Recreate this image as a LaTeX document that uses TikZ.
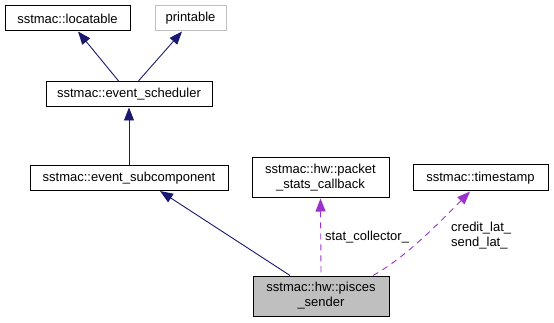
\documentclass[tikz,border=0pt]{standalone}
\usepackage{fontspec}
\setmainfont{Liberation Sans}
\usetikzlibrary{arrows.meta}

\definecolor{inheritblue}{HTML}{191970}
\definecolor{usepurple}{HTML}{9A32CD}
\definecolor{boxgray}{HTML}{BFBFBF}

\begin{document}
\begin{tikzpicture}[x=1pt, y=-1pt,
    every node/.style={font=\fontsize{13}{15}\selectfont},
    cls/.style={draw=black, line width=1pt, rectangle, inner sep=0pt,
        align=center, fill=white, minimum height=25pt},
    inherit/.style={{Triangle[length=13pt,width=10pt]}-, draw=inheritblue, line width=0.9pt},
    usage/.style={{Triangle[length=13pt,width=10pt]}-, draw=usepurple, line width=0.9pt,
        dash pattern=on 6pt off 5pt}]

        \useasboundingbox (0,0) rectangle (554,323);

        % Base classes
        \node[cls, minimum width=125pt] (locatable) at (67.5,18.5) {sstmac::locatable};
        \node[cls, draw=boxgray, minimum width=71pt] (printable) at (190.5,18.5) {printable};
        \node[cls, minimum width=166pt] (scheduler) at (129,94.5) {sstmac::event\_scheduler};
        \node[cls, minimum width=198pt] (subcomp) at (129,178) {sstmac::event\_subcomponent};

        % Members
        \node[cls, minimum width=137pt, minimum height=40pt] (statscb) at (320.5,178)
            {sstmac::hw::packet\\\_stats\_callback};
        \node[cls, minimum width=135pt, minimum height=26pt] (timestamp) at (480.5,178)
            {sstmac::timestamp};

        % The class itself
        \node[cls, fill=boxgray, minimum width=136pt, minimum height=40pt] (sender) at (321,296)
            {sstmac::hw::pisces\\\_sender};

        % Inheritance
        \draw[inherit] ([xshift=10.5pt]locatable.south) -- ([xshift=-10pt]scheduler.north);
        \draw[inherit] ([xshift=-8.5pt]printable.south) -- ([xshift=9pt]scheduler.north);
        \draw[inherit] (scheduler.south) -- (subcomp.north);
        \draw[inherit] ([xshift=31pt]subcomp.south) -- ([xshift=-31pt]sender.north);

        % Usage
        \draw[usage] (statscb.south) -- (sender.north);
        \draw[usage] ([xshift=-10.5pt]timestamp.south)
            .. controls (440,222) and (405,258) .. ([xshift=52pt]sender.north);

        % Labels
        \node[anchor=west, inner sep=0pt] (statlbl) at (325,237) {stat\_collector\_};
        \node[anchor=west, inner sep=0pt, align=left] (latlbl) at (451,236)
            {credit\_lat\_\\send\_lat\_};

    \end{tikzpicture}
\end{document}
